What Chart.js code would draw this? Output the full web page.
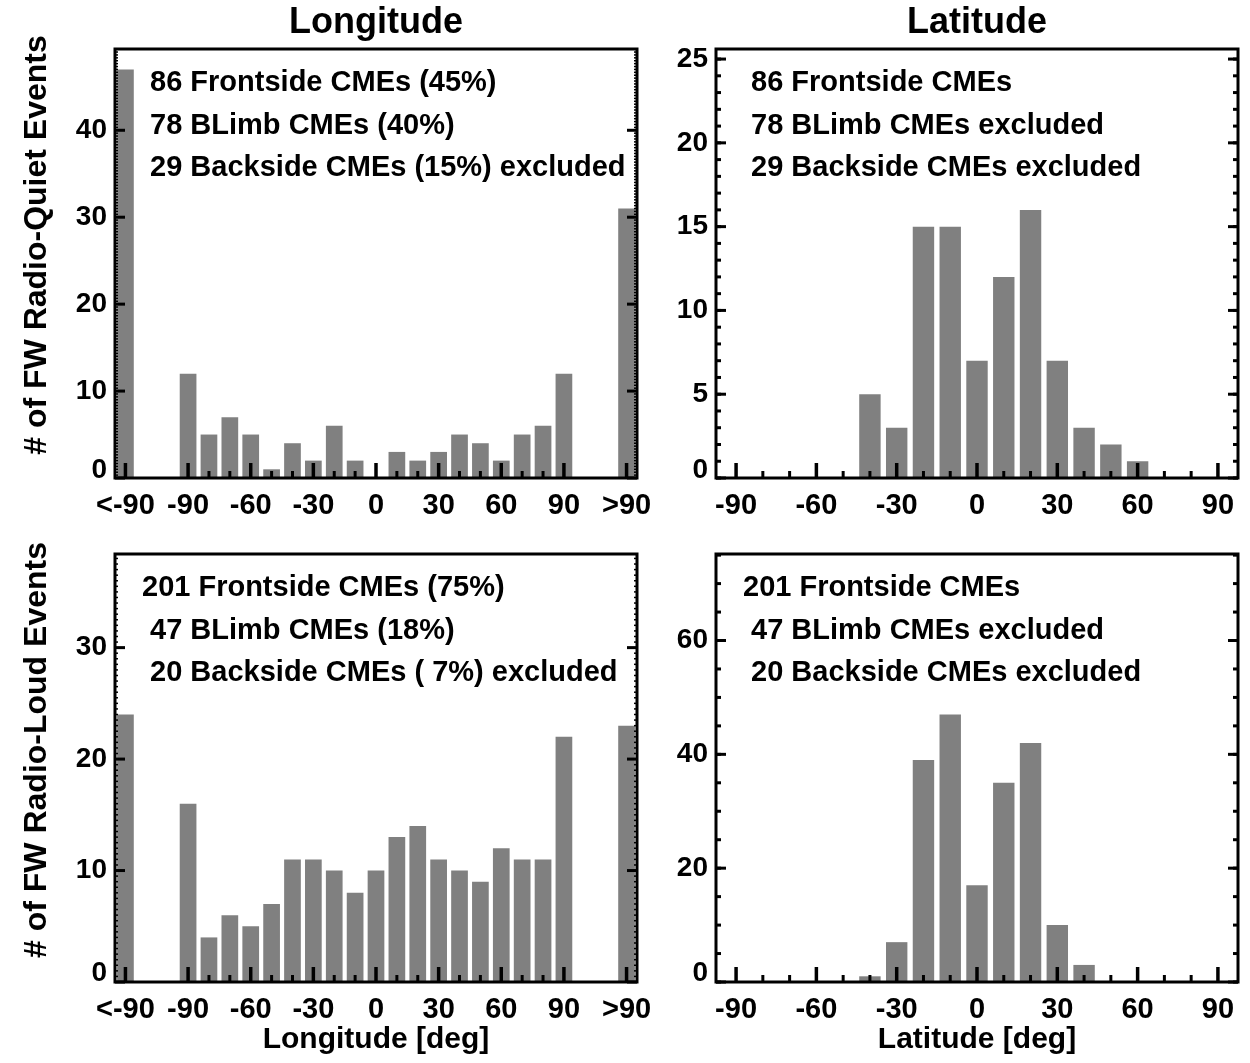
<!DOCTYPE html>
<html>
<head>
<meta charset="utf-8">
<title>FW radio-quiet / radio-loud CME source locations</title>
<script src="https://cdn.jsdelivr.net/npm/chart.js@4.4.1/dist/chart.umd.min.js"></script>
<style>
  body { margin: 0; background: #fff; }
  #wrap { position: relative; width: 1250px; height: 1063px; }
  #wrap canvas { position: absolute; }
</style>
</head>
<body>
<div id="wrap">
  <canvas id="qLon" width="650" height="530" style="left:0;top:0"></canvas>
  <canvas id="qLat" width="600" height="530" style="left:650px;top:0"></canvas>
  <canvas id="lLon" width="650" height="533" style="left:0;top:530px"></canvas>
  <canvas id="lLat" width="600" height="533" style="left:650px;top:530px"></canvas>
</div>
<script>
// histogram bins (deg). -120 / 120 hold the "<-90" and ">90" limb bins
const lonBins = [-120, -90, -80, -70, -60, -50, -40, -30, -20, -10, 0, 10, 20, 30, 40, 50, 60, 70, 80, 90, 120];
const latBins = [-90, -80, -70, -60, -50, -40, -30, -20, -10, 0, 10, 20, 30, 40, 50, 60, 70, 80, 90];

// radio-quiet events
const quietLon = [47, 12, 5, 7, 5, 1, 4, 2, 6, 2, 0, 3, 2, 3, 5, 4, 2, 5, 6, 12, 31];
const quietLat = [0, 0, 0, 0, 0, 5, 3, 15, 15, 7, 12, 16, 7, 3, 2, 1, 0, 0, 0];
// radio-loud events
const loudLon = [24, 16, 4, 6, 5, 7, 11, 11, 10, 8, 10, 13, 14, 11, 10, 9, 12, 11, 11, 22, 23];
const loudLat = [0, 0, 0, 0, 0, 1, 7, 39, 47, 17, 35, 42, 10, 3, 0, 0, 0, 0, 0];

// tick values and labels
const lonTicks = [-120, -90, -60, -30, 0, 30, 60, 90, 120];
const lonTickLabels = ['<-90', '-90', '-60', '-30', '0', '30', '60', '90', '>90'];
const latTicks = [-90, -60, -30, 0, 30, 60, 90];
const latTickLabels = ['-90', '-60', '-30', '0', '30', '60', '90'];
const minorX = [-80, -70, -50, -40, -20, -10, 10, 20, 40, 50, 70, 80];

const quietLonY = [0, 10, 20, 30, 40];
const quietLatY = [0, 5, 10, 15, 20, 25];
const loudLonY = [0, 10, 20, 30];
const loudLatY = [0, 20, 40, 60];

const quietLonNotes = [' 86 Frontside CMEs (45%)', ' 78 BLimb CMEs (40%)', ' 29 Backside CMEs (15%) excluded'];
const quietLatNotes = [' 86 Frontside CMEs', ' 78 BLimb CMEs excluded', ' 29 Backside CMEs excluded'];
const loudLonNotes = ['201 Frontside CMEs (75%)', ' 47 BLimb CMEs (18%)', ' 20 Backside CMEs ( 7%) excluded'];
const loudLatNotes = ['201 Frontside CMEs', ' 47 BLimb CMEs excluded', ' 20 Backside CMEs excluded'];

const FONT = "'Liberation Sans', Arial, Helvetica, sans-serif";
const BAR = '#808080';

function range(a, b, step) {
  const out = [];
  for (let v = a; v <= b + 1e-9; v += step) out.push(v);
  return out;
}

// IDL-like frame: thick box, ticks pointing inward, notes and titles
function idlPlugin(p) {
  return {
    id: 'idlFrame',
    afterDatasetsDraw(chart) {
      const ctx = chart.ctx, a = chart.chartArea;
      const x = chart.scales.x, y = chart.scales.y;
      ctx.save();
      ctx.strokeStyle = '#000';
      ctx.lineCap = 'butt';
      // x ticks on bottom axis
      ctx.lineWidth = 3.5;
      p.xMajor.forEach(v => {
        const px = x.getPixelForValue(v);
        ctx.beginPath(); ctx.moveTo(px, a.bottom); ctx.lineTo(px, a.bottom - 15); ctx.stroke();
      });
      ctx.lineWidth = 3;
      p.xMinor.forEach(v => {
        const px = x.getPixelForValue(v);
        ctx.beginPath(); ctx.moveTo(px, a.bottom); ctx.lineTo(px, a.bottom - 7); ctx.stroke();
      });
      // y ticks on both sides
      ctx.lineWidth = 3;
      p.yMajor.forEach(v => {
        const py = y.getPixelForValue(v);
        ctx.beginPath(); ctx.moveTo(a.left, py); ctx.lineTo(a.left + 10, py); ctx.stroke();
        ctx.beginPath(); ctx.moveTo(a.right, py); ctx.lineTo(a.right - 10, py); ctx.stroke();
      });
      ctx.lineWidth = p.yMinorWidth;
      p.yMinor.forEach(v => {
        const py = y.getPixelForValue(v);
        ctx.beginPath(); ctx.moveTo(a.left, py); ctx.lineTo(a.left + p.yMinorLen, py); ctx.stroke();
        ctx.beginPath(); ctx.moveTo(a.right, py); ctx.lineTo(a.right - p.yMinorLen, py); ctx.stroke();
      });
      // box
      ctx.lineWidth = 3;
      ctx.strokeRect(a.left, a.top, a.right - a.left, a.bottom - a.top);
      ctx.restore();
    },
    afterDraw(chart) {
      const ctx = chart.ctx, a = chart.chartArea;
      ctx.save();
      ctx.fillStyle = '#000';
      ctx.textBaseline = 'middle';
      ctx.textAlign = 'left';
      ctx.font = 'bold 29px ' + FONT;
      p.notes.forEach((t, i) => ctx.fillText(t, a.left + 27, a.top + 34 + i * 42.5));
      ctx.textAlign = 'center';
      if (p.title) {
        ctx.font = 'bold 36px ' + FONT;
        ctx.fillText(p.title, (a.left + a.right) / 2, 23);
      }
      if (p.xTitle) {
        ctx.font = 'bold 30px ' + FONT;
        ctx.fillText(p.xTitle, (a.left + a.right) / 2, p.xTitleY);
      }
      if (p.yTitle) {
        ctx.font = 'bold 32px ' + FONT;
        ctx.translate(37, p.yTitleY);
        ctx.rotate(-Math.PI / 2);
        ctx.fillText(p.yTitle, 0, 0);
      }
      ctx.restore();
    }
  };
}

function makePanel(id, p) {
  new Chart(document.getElementById(id), {
    type: 'bar',
    data: {
      datasets: [{
        data: p.bins.map((b, i) => ({ x: b, y: p.values[i] })),
        backgroundColor: BAR,
        borderWidth: 0,
        barPercentage: 0.8,
        categoryPercentage: 1.0
      }]
    },
    options: {
      responsive: false,
      animation: false,
      events: [],
      layout: { padding: { top: p.padTop, right: p.padRight, left: 0, bottom: 0 } },
      plugins: { legend: { display: false }, tooltip: { enabled: false } },
      scales: {
        x: {
          type: 'linear',
          offset: false,
          min: p.xMin,
          max: p.xMax,
          grid: { display: false, drawTicks: false, offset: false },
          border: { display: false },
          afterBuildTicks: s => { s.ticks = p.xMajor.map(v => ({ value: v })); },
          afterFit: s => {
            s.height = p.xAxisH;
            s.paddingLeft = 0;
            s.paddingRight = 0;
          },
          ticks: {
            color: '#000',
            font: { family: FONT, size: 29, weight: 'bold' },
            padding: 11,
            maxRotation: 0,
            autoSkip: false,
            callback: v => p.xLabels[p.xMajor.indexOf(v)]
          }
        },
        y: {
          min: 0,
          max: p.yMax,
          grid: { display: false, drawTicks: false },
          border: { display: false },
          afterBuildTicks: s => { s.ticks = p.yMajor.map(v => ({ value: v })); },
          afterFit: s => {
            s.width = p.yAxisW;
            s.paddingTop = 0;
            s.paddingBottom = 0;
          },
          ticks: {
            color: '#000',
            // the zero label sits a little above the axis, as in the original
            font: c => ({ family: FONT, size: 28, weight: 'bold',
                          lineHeight: c.tick && c.tick.value === 0 ? p.zeroLift : 1.2 }),
            padding: 8,
            callback: v => v === 0 ? ['0', ''] : String(v)
          }
        }
      }
    },
    plugins: [idlPlugin(p)]
  });
}

makePanel('qLon', {
  bins: lonBins, values: quietLon, xMin: -125, xMax: 125,
  xMajor: lonTicks, xLabels: lonTickLabels, xMinor: minorX,
  yMax: 49.35, yMajor: quietLonY, yMinor: range(0, 49, 1 / 3), yMinorLen: 3, yMinorWidth: 1.5,
  padTop: 49, padRight: 13, yAxisW: 115, xAxisH: 52, zeroLift: 0.55,
  notes: quietLonNotes, title: 'Longitude',
  yTitle: '# of FW Radio-Quiet Events', yTitleY: 245
});
makePanel('qLat', {
  bins: latBins, values: quietLat, xMin: -97.5, xMax: 97.5,
  xMajor: latTicks, xLabels: latTickLabels, xMinor: minorX,
  yMax: 25.6, yMajor: quietLatY, yMinor: range(0, 25, 1), yMinorLen: 5, yMinorWidth: 3,
  padTop: 49, padRight: 12, yAxisW: 66, xAxisH: 52, zeroLift: 0.55,
  notes: quietLatNotes, title: 'Latitude'
});
makePanel('lLon', {
  bins: lonBins, values: loudLon, xMin: -125, xMax: 125,
  xMajor: lonTicks, xLabels: lonTickLabels, xMinor: minorX,
  yMax: 38.4, yMajor: loudLonY, yMinor: range(0, 38, 0.5), yMinorLen: 3, yMinorWidth: 1.5,
  padTop: 24, padRight: 13, yAxisW: 115, xAxisH: 81, zeroLift: 0.6,
  notes: loudLonNotes, xTitle: 'Longitude [deg]', xTitleY: 510,
  yTitle: '# of FW Radio-Loud Events', yTitleY: 220
});
makePanel('lLat', {
  bins: latBins, values: loudLat, xMin: -97.5, xMax: 97.5,
  xMajor: latTicks, xLabels: latTickLabels, xMinor: minorX,
  yMax: 75.2, yMajor: loudLatY, yMinor: range(0, 75, 5), yMinorLen: 5, yMinorWidth: 3,
  padTop: 24, padRight: 12, yAxisW: 66, xAxisH: 81, zeroLift: 0.6,
  notes: loudLatNotes, xTitle: 'Latitude [deg]', xTitleY: 510
});
</script>
</body>
</html>
